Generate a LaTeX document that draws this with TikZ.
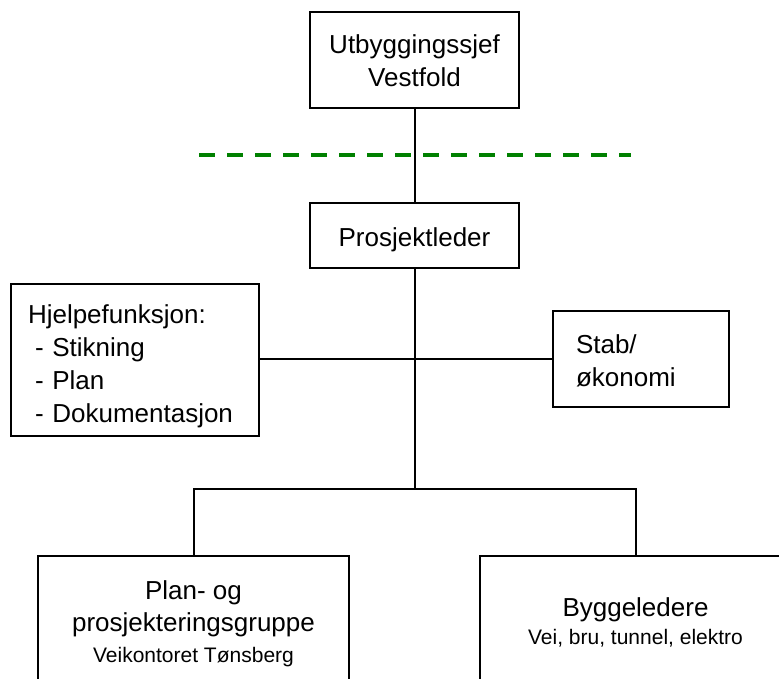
\documentclass[tikz,border=0pt]{standalone}
\usepackage{fontspec}
\setmainfont{Liberation Sans}
\definecolor{sepgreen}{RGB}{0,128,0}
\tikzset{
  orgbox/.style={draw=black, line width=2pt, fill=white, rectangle, inner sep=0pt},
  bigtext/.style={font=\fontsize{26}{33}\selectfont},
  link/.style={draw=black, line width=2pt},
  boundary/.style={draw=sepgreen, line width=4.5pt, dash pattern=on 16pt off 12pt}
}
\begin{document}
\begin{tikzpicture}[x=1pt, y=-1pt]
  \useasboundingbox (0,0) rectangle (779,678);
  \clip (0,0) rectangle (779,678);

  % dashed boundary between the regional level and the project
  \coordinate (bl) at (199,155);
  \coordinate (br) at (631,155);
  \path[boundary] (bl) -- (br);

  % boxes
  \node[orgbox, bigtext, align=center, minimum width=209pt, minimum height=96pt,
        text height=52pt, text depth=0pt]
    (top) at (414.5,60) {Utbyggingssjef\\Vestfold};
  \node[orgbox, bigtext, align=center, minimum width=209pt, minimum height=65pt,
        text height=21pt, text depth=0pt]
    (pl) at (414.5,235.5) {Prosjektleder};
  \node[orgbox, bigtext, align=left, text width=214pt, inner xsep=17pt, minimum height=152pt,
        text height=19pt, text depth=93pt]
    (hjelp) at (135,360) {Hjelpefunksjon:\\\hspace*{7pt}- Stikning\\\hspace*{7pt}- Plan\\\hspace*{7pt}- Dokumentasjon};
  \node[orgbox, bigtext, align=left, text width=130pt, inner xsep=23pt, minimum height=96pt,
        text height=19pt, text depth=31pt]
    (stab) at (641,359) {Stab/\\økonomi};
  \node[orgbox, font=\fontsize{26}{32}\selectfont, align=center, minimum width=311pt, minimum height=130pt,
        text height=82pt, text depth=0pt]
    (plangr) at (193.5,621) {Plan- og\\prosjekteringsgruppe\\[-1pt]{\fontsize{21}{25}\selectfont Veikontoret Tønsberg}};
  \node[orgbox, font=\fontsize{26}{28}\selectfont, align=center, minimum width=311pt, minimum height=130pt,
        text height=46pt, text depth=0pt]
    (bygg) at (635.5,621) {Byggeledere\\{\fontsize{21}{25}\selectfont Vei, bru, tunnel, elektro}};

  % connectors
  \coordinate (bus) at (414.5,489);
  \path[link] (top) -- (pl);
  \path[link] (pl) -- (bus);
  \path[link] (stab.west) -- (stab.west -| hjelp.east);
  \path[link] (plangr.north) |- (bus) -| (bygg.north);
\end{tikzpicture}
\end{document}
